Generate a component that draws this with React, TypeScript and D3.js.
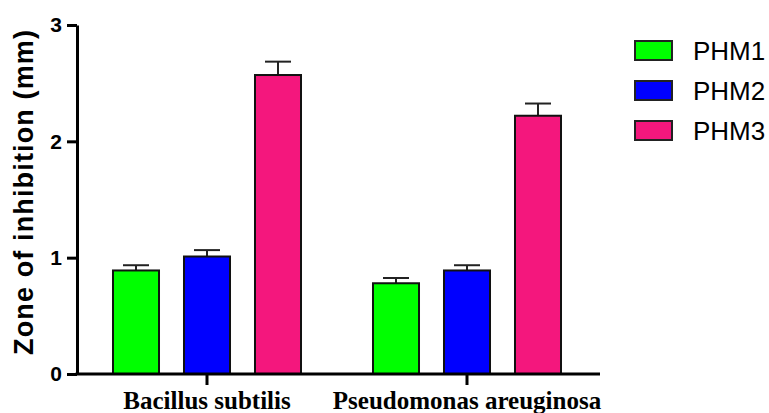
import React, { useEffect, useRef } from "react";
import * as d3 from "d3";

const categories = ["Bacillus subtilis", "Pseudomonas areuginosa"];
const seriesNames = ["PHM1", "PHM2", "PHM3"];
const seriesColors = ["#00FF00", "#0000FF", "#F4177D"];
const phm1 = [0.89, 0.78];
const phm2 = [1.01, 0.89];
const phm3 = [2.57, 2.22];
const phm1Err = [0.045, 0.045];
const phm2Err = [0.055, 0.045];
const phm3Err = [0.115, 0.105];
const yTicks = [0, 1, 2, 3];
const yLabel = "Zone of inhibition (mm)";

export default function App() {
  const ref = useRef<SVGSVGElement | null>(null);

  useEffect(() => {
    const svg = d3.select(ref.current);
    svg.selectAll("*").remove();

    const W = 769, H = 413;
    const x0 = 77, xEnd = 600, yBase = 374, yTop = 25;
    const values = [phm1, phm2, phm3];
    const errs = [phm1Err, phm2Err, phm3Err];

    const y = d3.scaleLinear().domain([0, 3]).range([yBase, yTop]);
    const xg = d3.scaleBand<string>().domain(categories).range([x0, x0 + 520]).padding(0);
    const xi = d3
      .scaleBand<string>()
      .domain(seriesNames)
      .range([xg.bandwidth() / 2 - 106.5, xg.bandwidth() / 2 + 106.5])
      .paddingInner(0.352)
      .paddingOuter(0.176);

    svg.append("rect").attr("width", W).attr("height", H).attr("fill", "#fff");

    // bars
    categories.forEach((cat, ci) => {
      const g = svg.append("g").attr("transform", `translate(${xg(cat)},0)`);
      seriesNames.forEach((s, si) => {
        const v = values[si][ci];
        const e = errs[si][ci];
        const bx = xi(s)!;
        const bw = xi.bandwidth();
        const cx = bx + bw / 2;
        // error bar
        g.append("line")
          .attr("x1", cx).attr("x2", cx)
          .attr("y1", y(v)).attr("y2", y(v + e))
          .attr("stroke", "#222").attr("stroke-width", 2);
        g.append("line")
          .attr("x1", cx - 13).attr("x2", cx + 13)
          .attr("y1", y(v + e)).attr("y2", y(v + e))
          .attr("stroke", "#222").attr("stroke-width", 2);
        g.append("rect")
          .attr("x", bx).attr("y", y(v))
          .attr("width", bw).attr("height", yBase - y(v))
          .attr("fill", seriesColors[si])
          .attr("stroke", "#111").attr("stroke-width", 2);
      });
    });

    // y axis
    const yAxis = d3.axisLeft(y).tickValues(yTicks).tickFormat(d3.format("d")).tickSize(10).tickPadding(5).tickSizeOuter(0);
    const ya = svg.append("g").attr("transform", `translate(${x0},0)`).call(yAxis);
    ya.select(".domain").attr("stroke", "#000").attr("stroke-width", 3);
    ya.selectAll(".tick line").attr("stroke", "#000").attr("stroke-width", 3);
    ya.selectAll(".tick text")
      .attr("font-family", "Arial, 'Liberation Sans', sans-serif")
      .attr("font-weight", "bold")
      .attr("font-size", 21)
      .attr("fill", "#000");

    // x axis
    const xAxis = d3.axisBottom(xg).tickSize(11).tickPadding(6).tickSizeOuter(0);
    const xa = svg.append("g").attr("transform", `translate(0,${yBase})`).call(xAxis);
    xa.select(".domain").remove();
    xa.append("line").attr("x1", x0 - 1.5).attr("x2", xEnd).attr("y1", 0).attr("y2", 0)
      .attr("stroke", "#000").attr("stroke-width", 3);
    xa.selectAll(".tick line").attr("stroke", "#000").attr("stroke-width", 3);
    xa.selectAll(".tick text")
      .attr("font-family", "'Times New Roman', 'Liberation Serif', serif")
      .attr("font-weight", "bold")
      .attr("font-size", 25)
      .attr("fill", "#000")
      .attr("dy", "0.71em")
      .attr("y", 17);

    // y label
    svg.append("text")
      .attr("transform", `translate(33,${(30 + 355) / 2}) rotate(-90)`)
      .attr("text-anchor", "middle")
      .attr("font-family", "Arial, 'Liberation Sans', sans-serif")
      .attr("font-weight", "bold")
      .attr("font-size", 27)
      .attr("textLength", 325)
      .attr("lengthAdjust", "spacing")
      .attr("fill", "#000")
      .text(yLabel);

    // legend
    const lg = svg.append("g");
    seriesNames.forEach((s, i) => {
      const ly = 41 + i * 40;
      lg.append("rect")
        .attr("x", 635).attr("y", ly).attr("width", 37).attr("height", 19)
        .attr("fill", seriesColors[i]).attr("stroke", "#222").attr("stroke-width", 2);
      lg.append("text")
        .attr("x", 693).attr("y", ly + 9.5).attr("dy", "0.36em")
        .attr("font-family", "Arial, 'Liberation Sans', sans-serif")
        .attr("font-size", 26)
        .attr("fill", "#000")
        .text(s);
    });
  }, []);

  return (
    <svg
      ref={ref}
      width={769}
      height={413}
      style={{ position: "absolute", left: 0, top: 0, display: "block" }}
    />
  );
}
